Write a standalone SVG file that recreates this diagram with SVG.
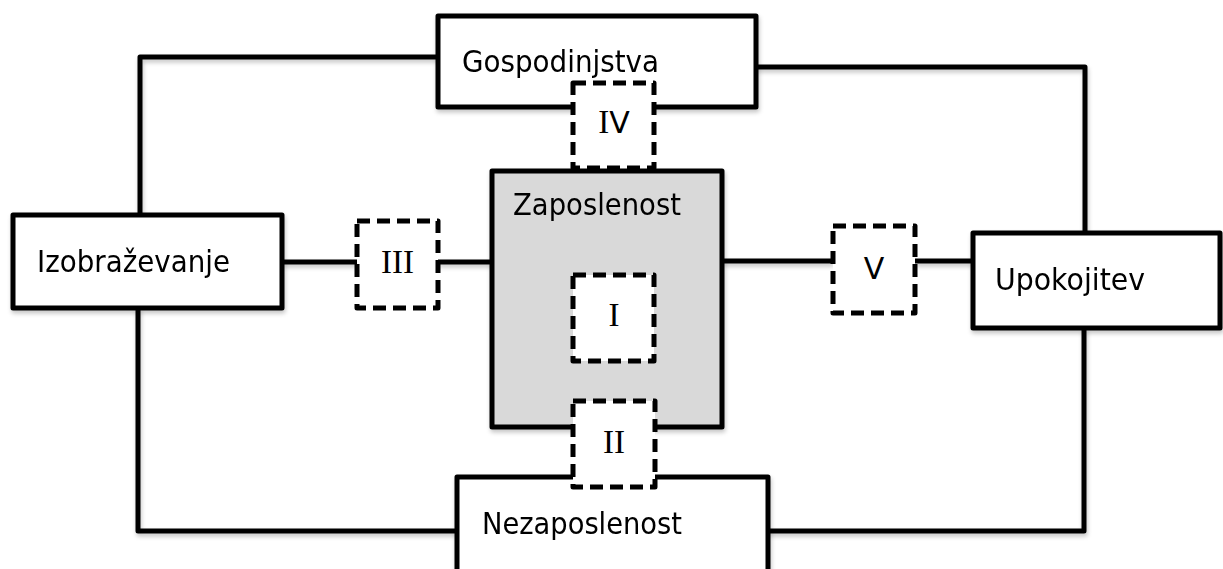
<svg xmlns="http://www.w3.org/2000/svg" width="1223" height="569" viewBox="0 0 1223 569">
<defs>
<filter id="sh" x="-5%" y="-5%" width="110%" height="115%">
<feDropShadow dx="1" dy="3" stdDeviation="2" flood-color="#000" flood-opacity="0.22"/>
</filter>
<style>
.box{fill:#fff;stroke:#000;stroke-width:5;stroke-linejoin:round}
.main{fill:#d9d9d9;stroke:#000;stroke-width:5;stroke-linejoin:round}
.dash{fill:#fff;stroke:#000;stroke-width:5;stroke-dasharray:13 7;stroke-linejoin:round}
.conn{fill:none;stroke:#000;stroke-width:5;stroke-linejoin:round}
.lbl{font-family:"DejaVu Sans","Liberation Sans",sans-serif;font-size:30px;fill:#000}
.num{font-family:"DejaVu Sans","Liberation Sans",sans-serif;font-size:30px;fill:#000;text-anchor:middle}
.ser{font-family:"Liberation Serif","DejaVu Serif",serif;font-size:33px}
</style>
</defs>
<rect width="1223" height="569" fill="#fff"/>
<g id="connectors" filter="url(#sh)">
<path class="conn" d="M140,215 V57 H438"/>
<path class="conn" d="M138,308 V531 H457"/>
<path class="conn" d="M756,67 H1085 V233"/>
<path class="conn" d="M1084,328 V531 H768"/>
<path class="conn" d="M282,262 H357"/>
<path class="conn" d="M438,262 H497"/>
<path class="conn" d="M722,261 H833"/>
<path class="conn" d="M915,261 H973"/>
</g>
<g id="gospodinjstva" filter="url(#sh)">
<rect class="box" x="438" y="16" width="318" height="91"/>
<text class="lbl" x="462" y="72" textLength="197" lengthAdjust="spacingAndGlyphs">Gospodinjstva</text>
</g>
<g id="izobrazevanje" filter="url(#sh)">
<rect class="box" x="13" y="215" width="269" height="93"/>
<text class="lbl" x="37" y="272" textLength="193" lengthAdjust="spacingAndGlyphs">Izobraževanje</text>
</g>
<g id="upokojitev" filter="url(#sh)">
<rect class="box" x="973" y="233" width="247" height="95"/>
<text class="lbl" x="995" y="290" textLength="150" lengthAdjust="spacingAndGlyphs">Upokojitev</text>
</g>
<g id="zaposlenost" filter="url(#sh)">
<rect class="main" x="492" y="171" width="230" height="256"/>
<text class="lbl" x="513" y="215" textLength="168" lengthAdjust="spacingAndGlyphs">Zaposlenost</text>
</g>
<g id="nezaposlenost" filter="url(#sh)">
<rect class="box" x="457" y="477" width="311" height="130"/>
<text class="lbl" x="482" y="534" textLength="200" lengthAdjust="spacingAndGlyphs">Nezaposlenost</text>
</g>
<g id="n-I">
<rect class="dash" x="573" y="275" width="81" height="86"/>
<text class="num ser" x="614" y="326">I</text>
</g>
<g id="n-II">
<rect class="dash" x="573" y="401" width="82" height="86"/>
<text class="num ser" x="614" y="453">II</text>
</g>
<g id="n-III">
<rect class="dash" x="357" y="221" width="81" height="87"/>
<text class="num ser" x="397.5" y="273">III</text>
</g>
<g id="n-IV">
<rect class="dash" x="573" y="83" width="81" height="85"/>
<text class="num" x="614" y="133"><tspan class="ser">I</tspan>V</text>
</g>
<g id="n-V">
<rect class="dash" x="833" y="226" width="82" height="87"/>
<text class="num" x="874" y="279">V</text>
</g>
</svg>
